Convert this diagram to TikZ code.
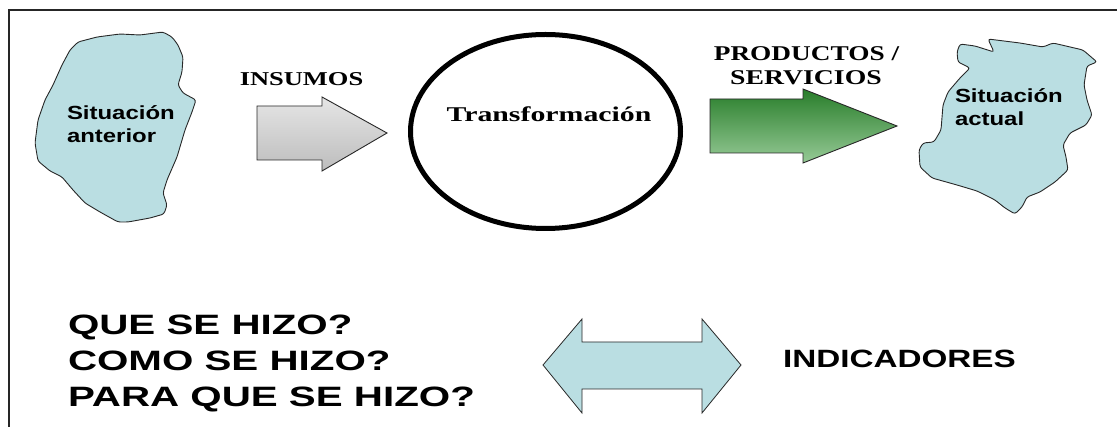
\documentclass[tikz,border=0pt]{standalone}
\usepackage{fontspec}
\usepackage{graphicx}
\usetikzlibrary{shapes.geometric}
\setmainfont{Liberation Serif}
\newfontfamily\arialf{Liberation Sans}
\definecolor{blobc}{RGB}{186,222,226}
\definecolor{edgec}{RGB}{40,40,40}
\newcommand\sx[2]{\scalebox{#1}[1]{#2}}
\tikzset{
  blob/.style={fill=blobc, draw=edgec, line width=0.9pt, rounded corners=2.5pt},
  blockarrow/.style={draw=edgec, line width=0.9pt},
  lbl/.style={inner sep=0pt, outer sep=0pt},
  sanslbl/.style={lbl, font=\arialf\bfseries},
  seriflbl/.style={lbl, font=\bfseries}
}
\begin{document}
\begin{tikzpicture}[x=1pt,y=-1pt]
\useasboundingbox (0,0) rectangle (1117,427);
\clip (0,0) rectangle (1117,427);
\fill[white] (0,0) rectangle (1117,427);
% frame (cropped)
\draw[line width=1.4pt, black!85] (9,440) -- (9,10) -- (1130,10);

% left blob
\draw[blob] (78,42) -- (97,37) -- (120,34) -- (140,35) -- (163,32) -- (172,37) -- (178,45) -- (183,57) -- (182,72) -- (178,85) -- (183,93) -- (196,100) -- (192,112) -- (185,130) -- (177,157) -- (167,180) -- (163,193) -- (167,205) -- (164,214) -- (150,218) -- (128,222) -- (118,222) -- (100,212) -- (85,203) -- (73,190) -- (62,177) -- (50,171) -- (38,161) -- (35,143) -- (38,120) -- (45,100) -- (53,85) -- (62,65) -- (70,50) -- cycle;
\node[sanslbl, anchor=base west, align=left, font=\arialf\bfseries\fontsize{19}{23}\selectfont] (ant) at (67,143) {\sx{1.26}{Situación}\\\sx{1.26}{anterior}};

% right blob
\draw[blob] (960,44) -- (975,46) -- (994,52) -- (988,39) -- (1020,43) -- (1043,47) -- (1053,43) -- (1083,50) -- (1097,62) -- (1087,66) -- (1084,85) -- (1087,100) -- (1092,115) -- (1086,125) -- (1070,133) -- (1063,145) -- (1066,157) -- (1068,170) -- (1055,182) -- (1040,192) -- (1027,197) -- (1022,207) -- (1015,214) -- (1005,208) -- (995,200) -- (977,191) -- (957,185) -- (932,178) -- (920,167) -- (919,150) -- (923,143) -- (934,142) -- (941,130) -- (943,105) -- (948,92) -- (960,78) -- (970,68) -- (958,62) -- (957,52) -- cycle;
\node[sanslbl, anchor=base west, align=left, font=\arialf\bfseries\fontsize{19}{23}\selectfont] (act) at (955,126) {\sx{1.26}{Situación}\\\sx{1.26}{actual}};

% INSUMOS arrow
\draw[blockarrow, top color=black!10, bottom color=black!26] (257,106) -- (322,106) -- (322,97) -- (387,133) -- (322,171) -- (322,160) -- (257,160) -- cycle;
\node[seriflbl, anchor=base, font=\bfseries\fontsize{19.6}{23}\selectfont] (ins) at (301.5,86) {\sx{1.35}{INSUMOS}};

% transformation ellipse
\node[ellipse, draw=black, line width=5pt, minimum width=270pt, minimum height=194pt, inner sep=0pt] (tr) at (545.5,131.5) {};
\node[seriflbl, anchor=base, font=\bfseries\fontsize{21}{25}\selectfont] (trl) at (549,122) {\sx{1.42}{Transformación}};

% PRODUCTOS arrow
\draw[blockarrow, top color={rgb,255:red,40;green,125;blue,42}, bottom color={rgb,255:red,150;green,202;blue,150}] (710,99) -- (803,99) -- (803,89) -- (897,126) -- (803,163) -- (803,153) -- (710,153) -- cycle;
\node[seriflbl, anchor=base, font=\bfseries\fontsize{21}{24}\selectfont] (prod) at (806.5,61) {\sx{1.3}{PRODUCTOS /}};
\node[seriflbl, anchor=base, font=\bfseries\fontsize{21}{24}\selectfont] (serv) at (806,85) {\sx{1.32}{SERVICIOS}};

% questions
\node[sanslbl, anchor=base west, align=left, font=\arialf\bfseries\fontsize{28}{36}\selectfont] (q) at (68,407) {\sx{1.44}{QUE SE HIZO?}\\\sx{1.44}{COMO SE HIZO?}\\\sx{1.44}{PARA QUE SE HIZO?}};

% double arrow
\draw[blockarrow, fill=blobc, line width=0.8pt] (543,365) -- (582,319) -- (582,342) -- (702,342) -- (702,319) -- (741,365) -- (702,413) -- (702,389) -- (582,389) -- (582,413) -- cycle;

% indicadores
\node[sanslbl, anchor=base west, font=\arialf\bfseries\fontsize{25}{28}\selectfont] (ind) at (783,368) {\sx{1.33}{INDICADORES}};
\end{tikzpicture}
\end{document}
